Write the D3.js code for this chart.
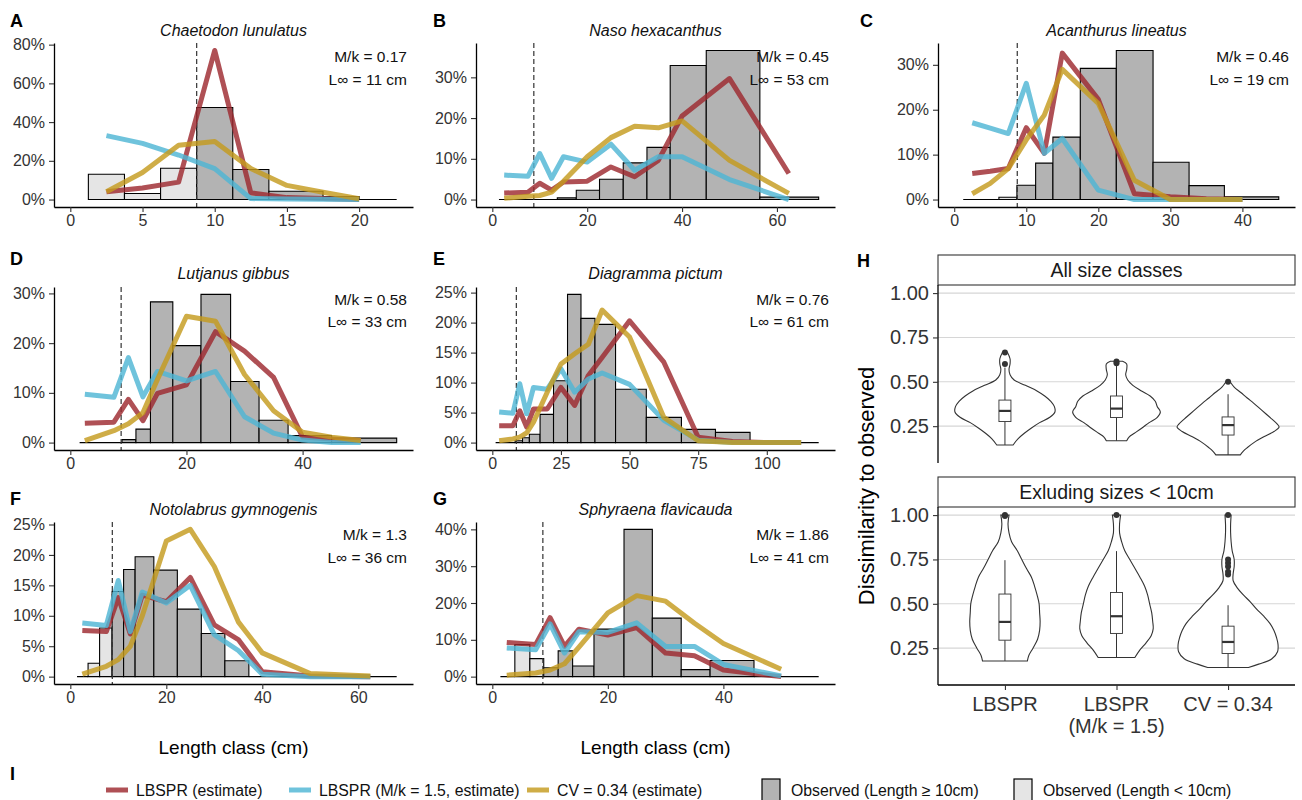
<!DOCTYPE html>
<html>
<head>
<meta charset="utf-8">
<script src="https://cdn.jsdelivr.net/npm/d3@7"></script>
<style>
  body { margin: 0; background: #fff; }
  svg text { font-family: 'Liberation Sans', Arial, sans-serif; }
</style>
</head>
<body>
<svg id="chart" width="1302" height="800"></svg>
<script>
// ---- data ----
const species = ["Chaetodon lunulatus", "Naso hexacanthus", "Acanthurus lineatus", "Lutjanus gibbus",
                 "Diagramma pictum", "Notolabrus gymnogenis", "Sphyraena flavicauda"];
const mkValues = [0.17, 0.45, 0.46, 0.58, 0.76, 1.3, 1.86];
const linfValues = [11, 53, 19, 33, 61, 36, 41];
const cutoff = 8.75; // dashed line (cm)

// observed length bins (edges, cm) and percent of catch per bin
const edgesA = [1.25, 3.75, 6.25, 8.75, 11.25, 13.75, 17.5, 20, 22.6];
const obsA = [13.1, 3.1, 16.2, 47.5, 15.5, 4.3, 1.5, 0];
const edgesB = [1.4, 13.7, 17.7, 22.6, 27.6, 32.6, 37.5, 45.1, 56.4, 68.8];
const obsB = [0, 0.4, 2.3, 5, 9, 12.8, 32.9, 36.6, 0.6];
const edgesC = [1.25, 6.2, 8.7, 11.3, 13.7, 17.5, 22.5, 27.6, 32.6, 37.5, 45.05];
const obsC = [0, 0.5, 3.2, 8.1, 13.9, 29.2, 33.2, 8.3, 3.1, 0.6];
const edgesD = [1.6, 8.9, 11.3, 13.8, 17.65, 22.5, 27.6, 32.5, 37.5, 45, 56.2];
const obsD = [0, 0.6, 2.7, 28.3, 19.5, 29.8, 12.3, 4.5, 1.4, 0.9];
const edgesE = [1.2, 8.3, 11, 13.5, 17.4, 22.3, 27.4, 32.3, 37.4, 44.9, 56.1, 68.9, 81.3, 93.9, 118.9];
const obsE = [0, 0.3, 0.8, 1.4, 4.7, 10.3, 24.7, 20.7, 19.7, 8.9, 4.2, 2.2, 1.7, 0];
const edgesF = [1.4, 3.7, 6.1, 8.7, 11.1, 13.5, 17.4, 22.3, 27.3, 32.2, 37.2, 68];
const obsF = [0, 2.2, 8, 14, 17.6, 19.7, 17.5, 11.1, 7.1, 2.6, 0];
const edgesG = [1.4, 3.9, 6.5, 8.9, 11.4, 13.9, 17.6, 22.8, 27.7, 32.7, 37.7, 45.3, 56.5];
const obsG = [0, 8.7, 4.9, 2.4, 7, 2.9, 12.9, 40, 15.9, 1.9, 4.4, 0];

// model estimates (percent) at length classes
const lenA = [2.5, 5, 7.5, 10, 12.5, 15, 17.5, 20];
const lbsprA = [4, 6, 9, 77, 3.5, 1, 0.5, 0];
const lbsprMkA = [33, 29, 23, 16, 0.5, 0.3, 0.2, 0];
const cvA = [4, 14, 28, 30, 16, 7.3, 3.8, 0.4];

const lenB = [2.5, 7.5, 10, 12.5, 15, 20, 25, 30, 35, 40, 50, 62.5];
const lbsprB = [1.6, 1.8, 4, 2.3, 4.3, 4.5, 8, 5.6, 9.6, 20.5, 29.7, 6.4];
const lbsprMkB = [6, 5.7, 11.3, 5.2, 10.5, 9.2, 13.6, 7.2, 10.5, 10.5, 4.9, 0];
const cvB = [0.3, 0.8, 1, 1.8, 4.5, 10.5, 15.2, 18, 17.6, 19.3, 9.6, 1.5];

const lenC = [2.5, 5, 7.5, 10, 12.5, 15, 20, 25, 30, 35, 40];
const lbsprC = [5.8, 6.3, 6.9, 16, 10.3, 32.6, 22.3, 1.3, 0.6, 0.2, 0];
const lbsprMkC = [17.1, 15.9, 14.7, 25.9, 10.3, 13.6, 2.1, 0, 0, 0, 0];
const cvC = [1.3, 3.6, 6.9, 13.3, 18.8, 29, 21.4, 4.3, 0, 0, 0];

const lenD = [2.5, 7.5, 10, 12.5, 15, 20, 25, 30, 35, 40, 45, 50];
const lbsprD = [3.9, 4.1, 8.7, 4.4, 9.9, 11.6, 22.3, 18.4, 13.1, 1.1, 0.7, 0.4];
const lbsprMkD = [9.7, 9.1, 17.1, 9.2, 14.3, 12.4, 14.3, 5.2, 1.9, 0.5, 0, 0];
const cvD = [0.4, 2.4, 3.8, 6, 12.7, 25.4, 24.4, 13.7, 6.4, 2.1, 1.1, 0.4];

const lenE = [2.5, 7.5, 10, 12.5, 15, 20, 25, 30, 35, 40, 50, 62.5, 75, 87.5, 100, 112.5];
const lbsprE = [2.8, 2.8, 5.3, 2.6, 5.6, 5.6, 9.2, 6.2, 11.2, 14.2, 20.3, 13.4, 0.9, 0.2, 0, 0];
const lbsprMkE = [5.1, 4.9, 9.8, 4.8, 9.2, 8.9, 12.3, 8.4, 10.6, 11.6, 9.7, 3.7, 0.4, 0, 0, 0];
const cvE = [0.3, 0.6, 0.9, 1.6, 3.4, 8.4, 13.1, 14.8, 16.4, 22.1, 17.6, 4.2, 0.3, 0, 0, 0];

const lenF = [2.5, 7.5, 10, 12.5, 15, 20, 25, 30, 35, 40, 50, 62.5];
const lbsprF = [7.6, 7.4, 13, 7, 13.4, 12.3, 16.3, 8.5, 6.1, 0.8, 0.1, 0];
const lbsprMkF = [8.8, 8.4, 15.8, 7.4, 13.9, 12.1, 15, 6.9, 4.3, 0.4, 0, 0];
const cvF = [0.4, 1.7, 2.8, 5, 10, 22.3, 24.2, 18.1, 9, 3.9, 0.5, 0.1];

const lenG = [2.5, 7.5, 10, 12.5, 15, 20, 25, 30, 35, 40, 50];
const lbsprG = [9.3, 8.7, 16, 8.2, 12.9, 11.3, 13.3, 6.4, 5.7, 1.8, 0];
const lbsprMkG = [7.8, 7.3, 14.3, 6.4, 12.2, 12, 14.6, 8.2, 8.2, 3.3, 0.2];
const cvG = [0.4, 1, 1.8, 3.5, 8, 17.3, 22, 20.5, 14.5, 9, 2];

// axis ticks
const xTicksA = [0, 5, 10, 15, 20], yTicksA = [0, 20, 40, 60, 80];
const xTicksB = [0, 20, 40, 60], yTicksB = [0, 10, 20, 30];
const xTicksC = [0, 10, 20, 30, 40], yTicksC = [0, 10, 20, 30];
const xTicksD = [0, 20, 40], yTicksD = [0, 10, 20, 30];
const xTicksE = [0, 25, 50, 75, 100], yTicksE = [0, 5, 10, 15, 20, 25];
const xTicksF = [0, 20, 40, 60], yTicksF = [0, 5, 10, 15, 20, 25];
const xTicksG = [0, 20, 40], yTicksG = [0, 10, 20, 30, 40];

// panel H: dissimilarity, violin outlines [value, relative density] and box stats
const methods = ["LBSPR", "LBSPR\n(M/k = 1.5)", "CV = 0.34"];
const facetLabels = ["All size classes", "Exluding sizes < 10cm"];
const hTicks = [0.25, 0.5, 0.75, 1.0];
const violinAll1 = [[0.665,0.05],[0.63,0.1],[0.60,0.1],[0.57,0.08],[0.54,0.1],[0.51,0.18],[0.48,0.4],[0.45,0.62],[0.42,0.78],[0.39,0.9],[0.36,0.97],[0.33,0.98],[0.30,0.88],[0.27,0.68],[0.24,0.52],[0.21,0.38],[0.18,0.26],[0.144,0.16]];
const violinAll2 = [[0.616,0.12],[0.60,0.2],[0.57,0.2],[0.54,0.18],[0.51,0.22],[0.48,0.32],[0.45,0.48],[0.42,0.66],[0.39,0.76],[0.36,0.8],[0.33,0.86],[0.30,0.8],[0.27,0.64],[0.24,0.5],[0.21,0.35],[0.19,0.25],[0.168,0.2]];
const violinAll3 = [[0.50,0.04],[0.47,0.12],[0.44,0.25],[0.41,0.37],[0.38,0.5],[0.35,0.62],[0.32,0.74],[0.29,0.86],[0.26,0.97],[0.245,1.0],[0.22,0.9],[0.19,0.7],[0.16,0.52],[0.13,0.38],[0.11,0.3],[0.088,0.24]];
const violinEx1 = [[1.0,0.08],[0.95,0.06],[0.90,0.08],[0.85,0.13],[0.80,0.24],[0.75,0.33],[0.70,0.42],[0.65,0.52],[0.60,0.58],[0.55,0.63],[0.50,0.67],[0.45,0.68],[0.40,0.69],[0.35,0.68],[0.30,0.64],[0.25,0.55],[0.21,0.47],[0.178,0.44]];
const violinEx2 = [[1.0,0.08],[0.95,0.06],[0.90,0.06],[0.85,0.1],[0.80,0.16],[0.75,0.26],[0.70,0.36],[0.65,0.46],[0.60,0.55],[0.55,0.61],[0.50,0.65],[0.45,0.69],[0.40,0.71],[0.36,0.72],[0.32,0.68],[0.28,0.58],[0.24,0.46],[0.197,0.36]];
const violinEx3 = [[1.0,0.06],[0.95,0.05],[0.90,0.05],[0.85,0.06],[0.80,0.08],[0.75,0.12],[0.71,0.12],[0.67,0.1],[0.63,0.1],[0.59,0.18],[0.55,0.3],[0.51,0.44],[0.47,0.56],[0.43,0.7],[0.39,0.82],[0.35,0.9],[0.31,0.95],[0.27,0.98],[0.23,0.97],[0.19,0.86],[0.16,0.6],[0.141,0.4]];
// [lower whisker, q1, median, q3, upper whisker]
const boxAll = [[0.144, 0.276, 0.336, 0.397, 0.58], [0.168, 0.299, 0.349, 0.42, 0.60], [0.088, 0.2, 0.256, 0.302, 0.43]];
const boxEx = [[0.178, 0.295, 0.398, 0.555, 0.746], [0.197, 0.333, 0.43, 0.564, 0.797], [0.141, 0.22, 0.285, 0.374, 0.492]];
const outAll = [[0.60, 0.665], [0.605, 0.615], [0.50]];
const outEx = [[0.995, 1.0], [1.0], [0.665, 0.68, 0.71, 0.73, 0.75, 1.0]];

const legendLabels = ["LBSPR (estimate)", "LBSPR (M/k = 1.5, estimate)", "CV = 0.34 (estimate)",
                      "Observed (Length \u2265 10cm)", "Observed (Length < 10cm)"];

// ---- layout / style ----
const svg = d3.select("#chart");
const colLeft = [54, 476, 938], colRight = [413, 835, 1295];
const rowTop = [43, 287, 522], rowBottom = [207, 450, 684];
const letterX = [10, 433, 860];
const letterY = [27, 265, 505], titleY = [36, 279, 515];
const mkY = [62, 305, 540], linfY = [85, 327, 563];
const lineColors = ["#9e2a30", "#4fb6d4", "#c49b1e"];
const darkBar = "#b3b3b3", lightBar = "#e5e5e5";
const textCol = "#333";

const panels = [
  {id: "A", row: 0, col: 0, edges: edgesA, obs: obsA, len: lenA, series: [lbsprA, lbsprMkA, cvA], xTicks: xTicksA, yTicks: yTicksA},
  {id: "B", row: 0, col: 1, edges: edgesB, obs: obsB, len: lenB, series: [lbsprB, lbsprMkB, cvB], xTicks: xTicksB, yTicks: yTicksB},
  {id: "C", row: 0, col: 2, edges: edgesC, obs: obsC, len: lenC, series: [lbsprC, lbsprMkC, cvC], xTicks: xTicksC, yTicks: yTicksC},
  {id: "D", row: 1, col: 0, edges: edgesD, obs: obsD, len: lenD, series: [lbsprD, lbsprMkD, cvD], xTicks: xTicksD, yTicks: yTicksD},
  {id: "E", row: 1, col: 1, edges: edgesE, obs: obsE, len: lenE, series: [lbsprE, lbsprMkE, cvE], xTicks: xTicksE, yTicks: yTicksE},
  {id: "F", row: 2, col: 0, edges: edgesF, obs: obsF, len: lenF, series: [lbsprF, lbsprMkF, cvF], xTicks: xTicksF, yTicks: yTicksF},
  {id: "G", row: 2, col: 1, edges: edgesG, obs: obsG, len: lenG, series: [lbsprG, lbsprMkG, cvG], xTicks: xTicksG, yTicks: yTicksG}
];

function styleAxis(g, size) {
  g.select(".domain").attr("stroke", "#000").attr("stroke-width", 1.3);
  g.selectAll(".tick line").attr("stroke", "#333").attr("stroke-width", 1.1);
  g.selectAll(".tick text").attr("fill", textCol).style("font-size", size + "px");
}

function drawPanel(p, i) {
  const x0 = colLeft[p.col], x1 = colRight[p.col];
  const y0 = rowTop[p.row], y1 = rowBottom[p.row];
  const L = p.edges[p.edges.length - 1];
  const x = d3.scaleLinear().domain([-0.05 * L, 1.05 * L]).range([x0, x1]);
  const ymax = d3.max([p.obs, ...p.series].flat());
  const y = d3.scaleLinear().domain([-0.05 * ymax, 1.05 * ymax]).range([y1, y0]);
  const g = svg.append("g");

  // observed bars (paths so that empty bins still show as a line)
  g.selectAll("path.bar").data(p.obs).enter().append("path")
    .attr("d", (d, k) => {
      const a = x(p.edges[k]), b = x(p.edges[k + 1]);
      return `M${a},${y(0)}V${y(d)}H${b}V${y(0)}Z`;
    })
    .attr("fill", (d, k) => (p.edges[k] + p.edges[k + 1]) / 2 >= 9.5 ? darkBar : lightBar)
    .attr("stroke", "#000").attr("stroke-width", 1.1);

  // size cut-off
  g.append("line")
    .attr("x1", x(cutoff)).attr("x2", x(cutoff)).attr("y1", y0).attr("y2", y1)
    .attr("stroke", "#333").attr("stroke-width", 1.2).attr("stroke-dasharray", "5,3");

  // model lines
  const line = d3.line().x((d, k) => x(p.len[k])).y(d => y(d));
  p.series.forEach((s, k) => {
    g.append("path").datum(s).attr("d", line)
      .attr("fill", "none").attr("stroke", lineColors[k]).attr("stroke-opacity", 0.82)
      .attr("stroke-width", 5).attr("stroke-linejoin", "round");
  });

  // axes
  const xa = g.append("g").attr("transform", `translate(0,${y1})`)
    .call(d3.axisBottom(x).tickValues(p.xTicks).tickSize(5).tickSizeOuter(0).tickPadding(3));
  styleAxis(xa, 16);
  const ya = g.append("g").attr("transform", `translate(${x0},0)`)
    .call(d3.axisLeft(y).tickValues(p.yTicks).tickSize(5).tickSizeOuter(0).tickPadding(4).tickFormat(d => d + "%"));
  styleAxis(ya, 16);

  // labels
  g.append("text").attr("x", letterX[p.col]).attr("y", letterY[p.row]).text(p.id)
    .style("font-size", "18px").style("font-weight", "bold").attr("fill", "#000");
  g.append("text").attr("x", (x0 + x1) / 2).attr("y", titleY[p.row]).attr("text-anchor", "middle")
    .text(species[i]).style("font-size", "16px").style("font-style", "italic").attr("fill", "#111");
  g.append("text").attr("x", x1 - 6).attr("y", mkY[p.row]).attr("text-anchor", "end")
    .text("M/k = " + mkValues[i]).style("font-size", "15.5px").attr("fill", "#111");
  g.append("text").attr("x", x1 - 6).attr("y", linfY[p.row]).attr("text-anchor", "end")
    .text("L\u221e = " + linfValues[i] + " cm").style("font-size", "15.5px").attr("fill", "#111");
}

panels.forEach(drawPanel);

// x titles under bottom row
[0, 1].forEach(c => {
  svg.append("text").attr("x", (colLeft[c] + colRight[c]) / 2).attr("y", 754).attr("text-anchor", "middle")
    .text("Length class (cm)").style("font-size", "19px").attr("fill", "#000");
});

// ---- panel H ----
const hx0 = 938, hx1 = 1295;
const xh = d3.scalePoint().domain(d3.range(methods.length)).range([hx0, hx1]).padding(0.6);
const wScale = d3.scaleLinear().domain([0, 1]).range([0, 51]);
const allVals = [violinAll1, violinAll2, violinAll3, violinEx1, violinEx2, violinEx3].flat().map(d => d[0]);
const hLo = d3.min(allVals), hHi = d3.max(allVals), hPad = 0.05 * (hHi - hLo);
const facets = [
  {label: facetLabels[0], strip: [255, 285], top: 285, bottom: 463, violins: [violinAll1, violinAll2, violinAll3], boxes: boxAll, outliers: outAll},
  {label: facetLabels[1], strip: [477, 507], top: 507, bottom: 685, violins: [violinEx1, violinEx2, violinEx3], boxes: boxEx, outliers: outEx}
];

svg.append("text").attr("x", 857).attr("y", 267).text("H")
  .style("font-size", "18px").style("font-weight", "bold");

facets.forEach((f, fi) => {
  const yh = d3.scaleLinear().domain([hLo - hPad, hHi + hPad]).range([f.bottom, f.top]);
  const g = svg.append("g");
  // grid
  g.selectAll("line.grid").data(hTicks).enter().append("line")
    .attr("x1", hx0).attr("x2", hx1).attr("y1", d => yh(d)).attr("y2", d => yh(d))
    .attr("stroke", "#d6d6d6").attr("stroke-width", 1.1);
  // strip
  g.append("rect").attr("x", hx0).attr("y", f.strip[0]).attr("width", hx1 - hx0).attr("height", f.strip[1] - f.strip[0])
    .attr("fill", "#fff").attr("stroke", "#333").attr("stroke-width", 1.1);
  g.append("text").attr("x", (hx0 + hx1) / 2).attr("y", f.strip[1] - 8).attr("text-anchor", "middle")
    .text(f.label).style("font-size", "19.5px").attr("fill", "#1a1a1a");

  // violins
  f.violins.forEach((v, k) => {
    const cx = xh(k);
    const area = d3.area().curve(d3.curveCatmullRom)
      .y(d => yh(d[0])).x0(d => cx - wScale(d[1])).x1(d => cx + wScale(d[1]));
    g.append("path").datum(v).attr("d", area)
      .attr("fill", "#fff").attr("stroke", "#333").attr("stroke-width", 1.1);
  });
  // boxplots
  f.boxes.forEach((b, k) => {
    const cx = xh(k), hw = 6;
    g.append("line").attr("x1", cx).attr("x2", cx).attr("y1", yh(b[0])).attr("y2", yh(b[1])).attr("stroke", "#333");
    g.append("line").attr("x1", cx).attr("x2", cx).attr("y1", yh(b[3])).attr("y2", yh(b[4])).attr("stroke", "#333");
    g.append("rect").attr("x", cx - hw).attr("y", yh(b[3])).attr("width", 2 * hw).attr("height", yh(b[1]) - yh(b[3]))
      .attr("fill", "#fff").attr("stroke", "#333").attr("stroke-width", 0.9);
    g.append("line").attr("x1", cx - hw).attr("x2", cx + hw).attr("y1", yh(b[2])).attr("y2", yh(b[2]))
      .attr("stroke", "#333").attr("stroke-width", 2.2);
    g.selectAll(null).data(f.outliers[k]).enter().append("circle")
      .attr("cx", cx).attr("cy", d => yh(d)).attr("r", 3).attr("fill", "#333");
  });

  // y axis
  const ya = g.append("g").attr("transform", `translate(${hx0},0)`)
    .call(d3.axisLeft(yh).tickValues(hTicks).tickSize(5).tickSizeOuter(0).tickPadding(4).tickFormat(d3.format(".2f")));
  ya.select(".domain").attr("d", `M0,${f.top}V${f.bottom}`);
  styleAxis(ya, 20);

  // x axis only on the bottom facet
  if (fi === facets.length - 1) {
    const xa = g.append("g").attr("transform", `translate(0,${f.bottom})`)
      .call(d3.axisBottom(xh).tickSize(5).tickSizeOuter(0).tickFormat(""));
    xa.select(".domain").attr("d", `M${hx0},0H${hx1}`);
    styleAxis(xa, 20);
    methods.forEach((m, k) => {
      const t = g.append("text").attr("x", xh(k)).attr("y", f.bottom + 26).attr("text-anchor", "middle")
        .style("font-size", "20px").attr("fill", textCol);
      m.split("\n").forEach((part, j) => {
        t.append("tspan").attr("x", xh(k)).attr("dy", j === 0 ? 0 : 22).text(part);
      });
    });
  }
});

svg.append("text").attr("transform", "translate(866,486) rotate(-90)")
  .attr("text-anchor", "middle").attr("dominant-baseline", "central")
  .text("Dissimilarity to observed").style("font-size", "22px").attr("fill", "#000");

// ---- legend ----
svg.append("text").attr("x", 10).attr("y", 780).text("I")
  .style("font-size", "18px").style("font-weight", "bold");
const legendX = [106, 289, 527, 762, 1014];
const legendY = 790;
legendLabels.forEach((lab, k) => {
  const lx = legendX[k];
  if (k < 3) {
    svg.append("line").attr("x1", lx).attr("x2", lx + 22).attr("y1", legendY).attr("y2", legendY)
      .attr("stroke", lineColors[k]).attr("stroke-opacity", 0.82).attr("stroke-width", 5);
  } else {
    svg.append("rect").attr("x", lx).attr("y", legendY - 11).attr("width", 18).attr("height", 22)
      .attr("fill", k === 3 ? darkBar : lightBar).attr("stroke", "#000").attr("stroke-width", 1.2);
  }
  svg.append("text").attr("x", lx + (k < 3 ? 30 : 29)).attr("y", legendY + 6)
    .text(lab).style("font-size", "15.8px").attr("fill", "#111");
});
</script>
</body>
</html>
